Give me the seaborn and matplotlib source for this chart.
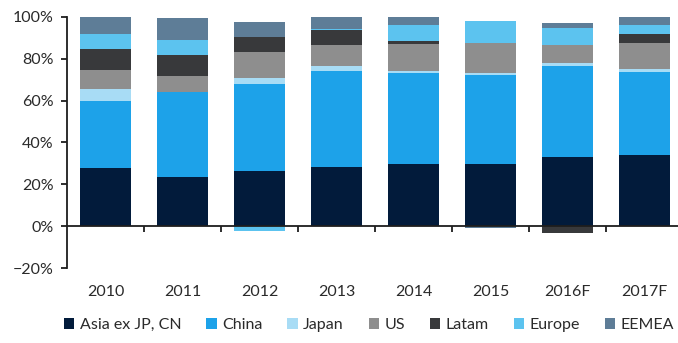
import numpy as np
import pandas as pd
import matplotlib
matplotlib.use("Agg")
import matplotlib.pyplot as plt
from matplotlib.patches import Patch
from matplotlib.ticker import FixedLocator, PercentFormatter
import seaborn as sns

# Share of total by region, per year (%)
years = ["2010", "2011", "2012", "2013", "2014", "2015", "2016F", "2017F"]
regions = ["Asia ex JP, CN", "China", "Japan", "US", "Latam", "Europe", "EEMEA"]
asia = [27.8, 23.4, 26.2, 28.5, 29.6, 29.5, 33.3, 33.8]
china = [32.2, 40.6, 41.9, 45.9, 43.8, 42.8, 43.5, 40.0]
japan = [5.4, 0.0, 2.6, 2.4, 0.8, 1.1, 1.0, 1.4]
us = [9.3, 7.8, 12.8, 9.9, 12.8, 14.1, 8.8, 12.3]
latam = [9.9, 9.8, 6.9, 7.2, 1.6, 0.0, -3.2, 4.6]
europe = [7.5, 7.4, -2.1, 0.6, 7.4, 10.7, 8.1, 4.1]
eemea = [7.9, 10.3, 7.0, 5.5, 4.0, -1.0, 2.2, 3.8]
yticks = [-20, 0, 20, 40, 60, 80, 100]

colors = ["#021B3B", "#1DA2E9", "#A8DCF5", "#8E8E8E", "#38393B", "#5CC3EF", "#5E7D97"]

series = [asia, china, japan, us, latam, europe, eemea]
values = np.array(series, dtype=float)
pos_cum = np.cumsum(np.clip(values, 0, None), axis=0)
neg_cum = np.cumsum(np.clip(values, None, 0), axis=0)

sns.set_theme(style="white")
plt.rcParams["font.family"] = ["Lato", "DejaVu Sans"]

fig = plt.figure(figsize=(6.78, 3.43), dpi=100)
ax = fig.add_axes([67 / 678, 1 - 268 / 343, 616 / 678, 251 / 343])

# Stacked bars: draw cumulative totals from the top layer down so each
# lower layer paints over the one above it (positive and negative sides).
for k in range(len(regions) - 1, -1, -1):
    for cum in (pos_cum[k], neg_cum[k]):
        df = pd.DataFrame({"year": years, "value": cum})
        sns.barplot(data=df, x="year", y="value", color=colors[k],
                    saturation=1, width=0.667, linewidth=0,
                    errorbar=None, ax=ax, order=years)

ax.set_xlim(-0.5, len(years) - 0.5)
ax.set_ylim(-20, 100)
ax.set_xlabel("")
ax.set_ylabel("")

axis_color = "#1E1E1E"
text_color = "#2A2A2A"
for side in ("top", "right"):
    ax.spines[side].set_visible(False)
ax.spines["left"].set_color(axis_color)
ax.spines["left"].set_linewidth(1.3)
ax.spines["bottom"].set_position(("data", 0))
ax.spines["bottom"].set_color(axis_color)
ax.spines["bottom"].set_linewidth(1.3)

ax.yaxis.set_major_locator(FixedLocator(yticks))
ax.yaxis.set_major_formatter(PercentFormatter(decimals=0))
ax.tick_params(axis="y", direction="out", length=4.5, width=1.3,
               color=axis_color, labelcolor=text_color, labelsize=11.5, pad=5,
               left=True)

ax.set_xticks(range(len(years)))
ax.set_xticklabels(years)
ax.set_xticks(np.arange(len(years)) + 0.5, minor=True)
ax.tick_params(axis="x", which="major", length=0, pad=42,
               labelcolor=text_color, labelsize=11.5)
ax.tick_params(axis="x", which="minor", direction="out", length=4,
               width=1.3, color=axis_color, bottom=True)

handles = [Patch(facecolor=c, edgecolor="none", label=r) for c, r in zip(colors, regions)]
fig.legend(handles=handles, loc="center", bbox_to_anchor=(369 / 678, 1 - 325 / 343),
           ncol=len(regions), frameon=False, fontsize=11.5,
           handlelength=0.65, handleheight=0.65, handletextpad=0.35,
           columnspacing=1.55, labelcolor=text_color, borderpad=0)

fig.savefig("out.png", dpi=100)
